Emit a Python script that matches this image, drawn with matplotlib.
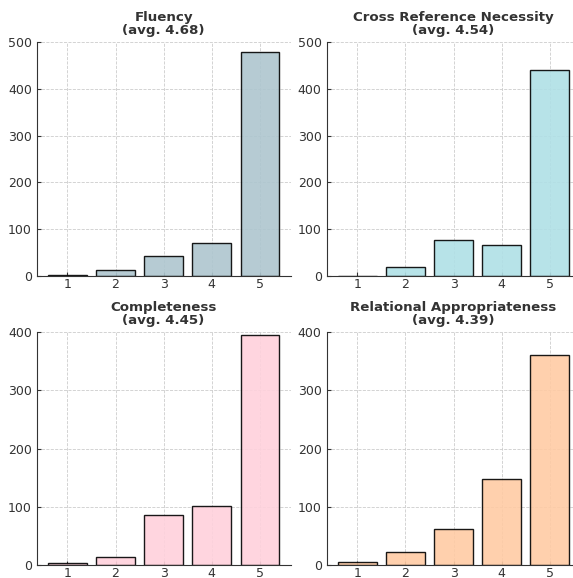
import numpy as np
import matplotlib
matplotlib.use("Agg")
import matplotlib.pyplot as plt

scores = [1, 2, 3, 4, 5]

fluency = [1, 12, 42, 69, 478]
cross_ref = [0, 19, 76, 65, 441]
completeness = [3, 14, 86, 101, 396]
relational = [5, 22, 62, 148, 361]

titles = ["Fluency\n(avg. 4.68)",
          "Cross Reference Necessity\n(avg. 4.54)",
          "Completeness\n(avg. 4.45)",
          "Relational Appropriateness\n(avg. 4.39)"]
colors = ["#AEC6CF", "#B0E0E6", "#FFD1DC", "#FFCBA4"]
ymax = [500, 500, 400, 400]

fig = plt.figure(figsize=(5.73, 5.78), dpi=100)

# axes positions in figure fraction (right column runs slightly past the edge)
pos = [[0.064, 0.523, 0.443, 0.404],
       [0.570, 0.523, 0.443, 0.404],
       [0.064, 0.0225, 0.443, 0.4026],
       [0.570, 0.0225, 0.443, 0.4026]]

data = [fluency, cross_ref, completeness, relational]

for i in range(4):
    ax = fig.add_axes(pos[i])
    ax.set_axisbelow(True)
    ax.grid(True, linestyle="--", color="#cccccc", linewidth=0.6)
    ax.bar(scores, data[i], color=colors[i], edgecolor="black",
           linewidth=1.0, alpha=0.9)
    ax.set_title(titles[i], fontsize=9.6, fontweight="bold", color="#333333",
                 pad=6, linespacing=1.0)
    ax.set_ylim(0, ymax[i])
    ax.set_xticks(scores)
    ax.set_yticks(np.arange(0, ymax[i] + 1, 100))
    ax.tick_params(direction="in", labelsize=9, colors="#333333", length=3)
    ax.tick_params(axis="x", pad=1.5)
    for s in ["top", "right"]:
        ax.spines[s].set_visible(False)
    for s in ["left", "bottom"]:
        ax.spines[s].set_color("#333333")

plt.savefig("out.png", dpi=100)
